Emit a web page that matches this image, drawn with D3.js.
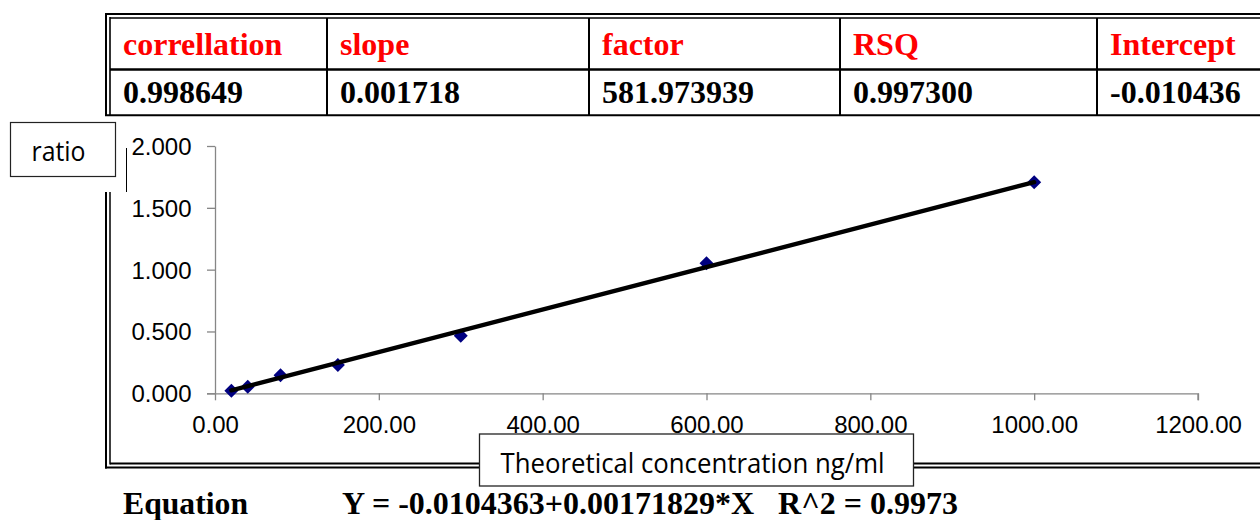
<!DOCTYPE html>
<html>
<head>
<meta charset="utf-8">
<script src="https://cdn.jsdelivr.net/npm/d3@7/dist/d3.min.js"></script>
<style>
  html, body { margin: 0; padding: 0; background: #fff; }
  svg { display: block; }
</style>
</head>
<body>
<svg id="chart" width="1260" height="520"></svg>
<script>
// Calibration standards: theoretical concentration (ng/ml) and measured ratio
const concentrations = [20, 40, 80, 150, 300, 600, 1000];
const ratios = [0.021, 0.053, 0.146, 0.229, 0.466, 1.051, 1.706];

// Regression summary table
const statHeaders = ["correllation", "slope", "factor", "RSQ", "Intercept"];
const statValues = ["0.998649", "0.001718", "581.973939", "0.997300", "-0.010436"];

// Fitted line parameters
const fitIntercept = -0.0104363;
const fitSlope = 0.00171829;

// Axis ticks
const xTicks = [0, 200, 400, 600, 800, 1000, 1200];
const yTicks = [0, 0.5, 1.0, 1.5, 2.0];

const yTitle = "ratio";
const xTitle = "Theoretical concentration ng/ml";
const equationLabel = "Equation";
const equationText = "Y = -0.0104363+0.00171829*X   R^2 = 0.9973";

const svg = d3.select("#chart");
const W = 1260;

// ---------- statistics table ----------
const serif = "'Liberation Serif', 'Times New Roman', serif";
const colX = [110, 327, 589, 840, 1097, 1262];
const table = svg.append("g");
// double outer border (top + left)
table.append("line").attr("x1", 105).attr("x2", W).attr("y1", 14).attr("y2", 14)
  .attr("stroke", "#000").attr("stroke-width", 2);
table.append("line").attr("x1", 110).attr("x2", W).attr("y1", 18).attr("y2", 18)
  .attr("stroke", "#000").attr("stroke-width", 1.6);
table.append("line").attr("x1", 106).attr("x2", 106).attr("y1", 13).attr("y2", 116)
  .attr("stroke", "#000").attr("stroke-width", 2);
table.append("line").attr("x1", 110).attr("x2", 110).attr("y1", 17).attr("y2", 116)
  .attr("stroke", "#000").attr("stroke-width", 1.6);
// row divider and bottom
table.append("line").attr("x1", 110).attr("x2", W).attr("y1", 69.5).attr("y2", 69.5)
  .attr("stroke", "#000").attr("stroke-width", 2.6);
table.append("line").attr("x1", 105).attr("x2", W).attr("y1", 115.3).attr("y2", 115.3)
  .attr("stroke", "#000").attr("stroke-width", 2);
// column dividers
colX.slice(1, 5).forEach(x => {
  table.append("line").attr("x1", x).attr("x2", x).attr("y1", 18).attr("y2", 116)
    .attr("stroke", "#000").attr("stroke-width", 2);
});
statHeaders.forEach((h, i) => {
  table.append("text").attr("x", colX[i] + 13).attr("y", 55)
    .attr("font-family", serif).attr("font-weight", "bold").attr("font-size", 32)
    .attr("fill", "#ff0000").text(h);
});
statValues.forEach((v, i) => {
  table.append("text").attr("x", colX[i] + 13).attr("y", 103)
    .attr("font-family", serif).attr("font-weight", "bold").attr("font-size", 32)
    .attr("fill", "#000").text(v);
});

// ---------- chart frame (double line, left + bottom) ----------
const frame = svg.append("g");
frame.append("line").attr("x1", 106).attr("x2", 106).attr("y1", 192).attr("y2", 468.5)
  .attr("stroke", "#000").attr("stroke-width", 2);
frame.append("line").attr("x1", 110).attr("x2", 110).attr("y1", 192).attr("y2", 464.5)
  .attr("stroke", "#000").attr("stroke-width", 1.5);
frame.append("line").attr("x1", 105).attr("x2", W).attr("y1", 467.5).attr("y2", 467.5)
  .attr("stroke", "#000").attr("stroke-width", 2);
frame.append("line").attr("x1", 110).attr("x2", W).attr("y1", 463.5).attr("y2", 463.5)
  .attr("stroke", "#000").attr("stroke-width", 2.2);
// small vertical rule beside the y-axis title
frame.append("line").attr("x1", 126.5).attr("x2", 126.5).attr("y1", 148).attr("y2", 192)
  .attr("stroke", "#000").attr("stroke-width", 1);

// ---------- scatter plot ----------
const x = d3.scaleLinear().domain([0, 1200]).range([215, 1198]);
const y = d3.scaleLinear().domain([0, 2]).range([393.3, 146]);
const sans = "'Liberation Sans', Arial, sans-serif";
const axisColor = "#868686";

const gx = svg.append("g").attr("transform", `translate(0,${y(0)})`)
  .call(d3.axisBottom(x).tickValues(xTicks).tickSize(7).tickSizeOuter(0)
    .tickFormat(d3.format(".2f")));
const gy = svg.append("g").attr("transform", `translate(${x(0)},0)`)
  .call(d3.axisLeft(y).tickValues(yTicks).tickSize(8).tickSizeOuter(0)
    .tickFormat(d3.format(".3f")));
[gx, gy].forEach(g => {
  g.select(".domain").attr("stroke", axisColor).attr("stroke-width", 1.3);
  g.selectAll(".tick line").attr("stroke", axisColor).attr("stroke-width", 1.3);
  g.selectAll(".tick text").attr("fill", "#000").attr("font-family", sans)
    .attr("font-size", 24);
});
// extend the x-axis line under the 0 tick of the y-axis
gx.select(".domain").attr("d", `M${x(0) - 8},0.5H${x(1200)}V7`);
gx.selectAll(".tick text").attr("y", 40).attr("dy", 0);
gy.selectAll(".tick text").attr("x", -23.5).attr("dy", "0.35em");

// data markers (navy diamonds)
svg.append("g").selectAll("path.pt")
  .data(concentrations.map((c, i) => [c, ratios[i]]))
  .join("path")
  .attr("class", "pt")
  .attr("d", d3.symbol(d3.symbolDiamond2, 125))
  .attr("transform", d => `translate(${x(d[0])},${y(d[1])})`)
  .attr("fill", "#000080");

// fitted regression line
const xMin = d3.min(concentrations), xMax = d3.max(concentrations);
svg.append("line")
  .attr("x1", x(xMin)).attr("y1", y(fitIntercept + fitSlope * xMin))
  .attr("x2", x(xMax)).attr("y2", y(fitIntercept + fitSlope * xMax))
  .attr("stroke", "#000").attr("stroke-width", 4.4).attr("stroke-linecap", "round");

// ---------- axis title boxes ----------
const calib = "'Open Sans', Lato, sans-serif";
svg.append("rect").attr("x", 10.5).attr("y", 122.5).attr("width", 105).attr("height", 54)
  .attr("fill", "#fff").attr("stroke", "#222").attr("stroke-width", 1.2);
svg.append("text").attr("x", 31.5).attr("y", 160.5)
  .attr("font-family", calib).attr("font-size", 28)
  .attr("textLength", 54).attr("lengthAdjust", "spacingAndGlyphs")
  .attr("fill", "#000").text(yTitle);

svg.append("rect").attr("x", 479.5).attr("y", 434).attr("width", 434).attr("height", 52)
  .attr("fill", "#fff").attr("stroke", "#222").attr("stroke-width", 1.3);
svg.append("text").attr("x", 500.5).attr("y", 472.5)
  .attr("font-family", calib).attr("font-size", 28)
  .attr("textLength", 384).attr("lengthAdjust", "spacingAndGlyphs")
  .attr("fill", "#000").text(xTitle);

// ---------- equation line ----------
svg.append("text").attr("x", 123).attr("y", 513.5)
  .attr("font-family", serif).attr("font-weight", "bold").attr("font-size", 31)
  .attr("textLength", 125).attr("lengthAdjust", "spacingAndGlyphs")
  .attr("fill", "#000").text(equationLabel);
svg.append("text").attr("x", 342).attr("y", 513.5)
  .attr("font-family", serif).attr("font-weight", "bold").attr("font-size", 31)
  .attr("textLength", 616).attr("lengthAdjust", "spacingAndGlyphs")
  .attr("fill", "#000").style("white-space", "pre")
  .text(equationText);
</script>
</body>
</html>
